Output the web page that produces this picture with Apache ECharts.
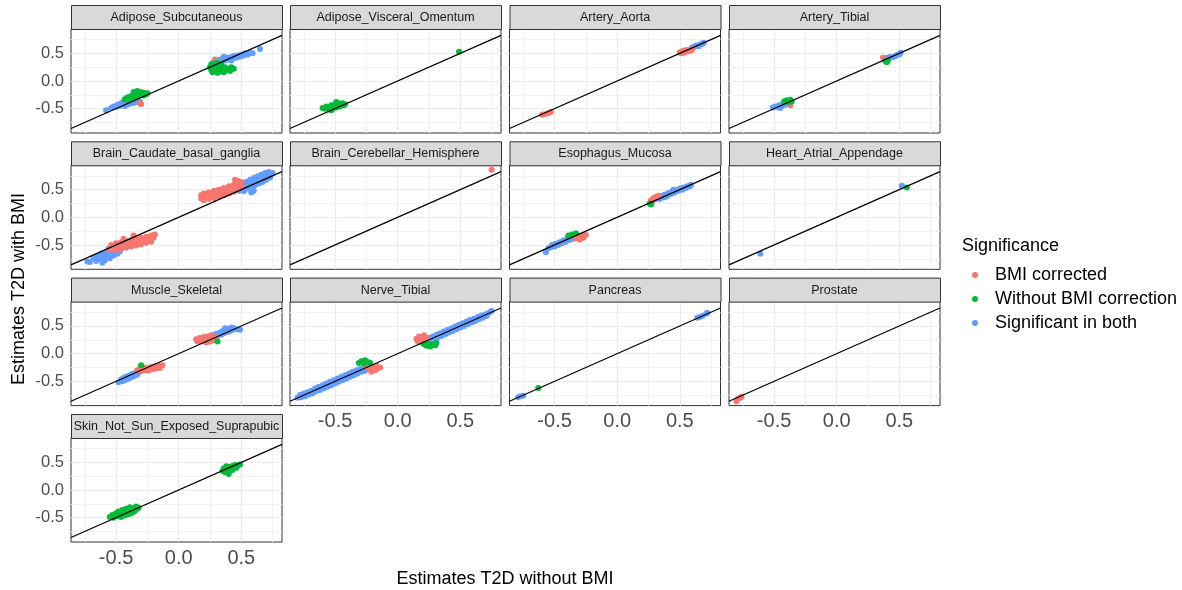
<!DOCTYPE html>
<html><head><meta charset="utf-8">
<script src="https://cdn.jsdelivr.net/npm/echarts@6/dist/echarts.min.js"></script>
<style>html,body{margin:0;padding:0;background:#fff}#c{width:1182px;height:590px}</style>
</head><body><div id="c"></div><script>
const panelNames = ['Adipose_Subcutaneous','Adipose_Visceral_Omentum','Artery_Aorta','Artery_Tibial',
  'Brain_Caudate_basal_ganglia','Brain_Cerebellar_Hemisphere','Esophagus_Mucosa','Heart_Atrial_Appendage',
  'Muscle_Skeletal','Nerve_Tibial','Pancreas','Prostate','Skin_Not_Sun_Exposed_Suprapubic'];
const groupNames = ['BMI corrected','Without BMI correction','Significant in both'];
const groupColors = ['#F8766D','#00BA38','#619CFF'];
const tickValues = [-0.5, 0, 0.5];
const majorGrid = [-0.5, 0, 0.5];
const minorGrid = [-0.75, -0.25, 0.25, 0.75];
const xLimits = [-0.86, 0.825];
const yLimits = [-0.94, 0.94];
const xTitle = 'Estimates T2D without BMI';
const yTitle = 'Estimates T2D with BMI';
const legendTitle = 'Significance';

// ---- data: [x, y] pairs per panel and group (red = BMI corrected, green = Without BMI correction, blue = Significant in both)
const adipSubRed = [[0.29,0.39],[-0.31,-0.40],[-0.30,-0.42]];
const adipSubGreen = [[-0.43,-0.33],[-0.41,-0.30],[-0.40,-0.34],[-0.39,-0.28],[-0.38,-0.31],[-0.37,-0.26],[-0.36,-0.30],[-0.35,-0.24],[-0.34,-0.28],[-0.33,-0.22],[-0.32,-0.26],[-0.31,-0.20],[-0.30,-0.24],[-0.29,-0.21],[-0.28,-0.26],[-0.27,-0.22],[-0.26,-0.24],[-0.25,-0.22],[-0.36,-0.20],[-0.33,-0.18],
  [0.25,0.25],[0.26,0.20],[0.26,0.30],[0.27,0.16],[0.28,0.24],[0.29,0.19],[0.30,0.28],[0.31,0.15],[0.32,0.22],[0.33,0.27],[0.33,0.17],[0.35,0.21],[0.36,0.16],[0.37,0.25],[0.38,0.19],[0.40,0.22],[0.41,0.18],[0.42,0.25],[0.44,0.22],[0.30,0.33],[0.34,0.31],[0.28,0.29]];
const adipSubBlue = [[-0.58,-0.53],[-0.54,-0.49],[-0.52,-0.46],[-0.50,-0.47],[-0.49,-0.43],[-0.47,-0.45],[-0.46,-0.40],[-0.45,-0.43],[-0.44,-0.37],[-0.43,-0.45],[-0.42,-0.40],[-0.41,-0.36],[-0.40,-0.42],[-0.39,-0.38],[-0.38,-0.34],[-0.37,-0.40],[-0.36,-0.36],[-0.35,-0.39],[-0.34,-0.37],[-0.33,-0.34],[-0.31,-0.37],
  [0.27,0.33],[0.29,0.36],[0.30,0.33],[0.32,0.38],[0.34,0.35],[0.35,0.40],[0.37,0.37],[0.38,0.42],[0.40,0.39],[0.41,0.43],[0.43,0.40],[0.44,0.45],[0.46,0.42],[0.47,0.46],[0.49,0.44],[0.50,0.48],[0.52,0.46],[0.53,0.50],[0.55,0.48],[0.57,0.51],[0.59,0.50],[0.65,0.58],[0.36,0.44],[0.42,0.37]];

const adipVisRed = [];
const adipVisGreen = [[-0.60,-0.49],[-0.58,-0.50],[-0.57,-0.46],[-0.55,-0.51],[-0.54,-0.47],[-0.53,-0.44],[-0.52,-0.50],[-0.51,-0.46],[-0.50,-0.42],[-0.49,-0.48],[-0.48,-0.44],[-0.47,-0.40],[-0.46,-0.46],[-0.45,-0.43],[-0.44,-0.40],[-0.43,-0.44],[-0.42,-0.42],[-0.53,-0.53],[-0.49,-0.38],[0.49,0.53]];
const adipVisBlue = [];

const aortaRed = [[-0.60,-0.61],[-0.58,-0.60],[-0.55,-0.58],[-0.53,-0.56],
  [0.50,0.52],[0.51,0.50],[0.52,0.54],[0.53,0.51],[0.54,0.55],[0.55,0.53],[0.56,0.56],[0.57,0.54],[0.58,0.57],[0.59,0.55],[0.60,0.58]];
const aortaGreen = [];
const aortaBlue = [[0.60,0.61],[0.62,0.62],[0.63,0.64],[0.65,0.63],[0.66,0.66],[0.68,0.67],[0.69,0.69]];

const arteryTibRed = [[-0.37,-0.44],[0.37,0.42]];
const arteryTibGreen = [[-0.42,-0.37],[-0.40,-0.35],[-0.39,-0.38],[-0.37,-0.34],[-0.36,-0.37],[0.39,0.36],[0.40,0.34],[0.41,0.37]];
const arteryTibBlue = [[-0.51,-0.48],[-0.49,-0.46],[-0.47,-0.47],[-0.46,-0.44],[-0.44,-0.45],[-0.43,-0.42],[-0.41,-0.43],[-0.40,-0.40],[-0.38,-0.41],[-0.45,-0.49],
  [0.38,0.40],[0.40,0.42],[0.42,0.41],[0.43,0.44],[0.45,0.43],[0.47,0.45],[0.48,0.47],[0.50,0.48],[0.51,0.51]];

const caudateRed = [[-0.55,-0.58],[-0.54,-0.50],[-0.52,-0.55],[-0.50,-0.47],[-0.50,-0.60],[-0.48,-0.52],[-0.46,-0.45],[-0.46,-0.57],[-0.44,-0.50],[-0.42,-0.43],[-0.42,-0.55],[-0.40,-0.48],[-0.38,-0.41],[-0.38,-0.53],[-0.36,-0.46],[-0.34,-0.39],[-0.34,-0.51],[-0.32,-0.44],[-0.30,-0.37],[-0.30,-0.49],[-0.28,-0.42],[-0.26,-0.35],[-0.26,-0.46],[-0.24,-0.40],[-0.22,-0.33],[-0.22,-0.44],[-0.20,-0.37],[-0.19,-0.31],[-0.44,-0.39],[-0.36,-0.33],
  [0.18,0.34],[0.18,0.40],[0.20,0.31],[0.20,0.37],[0.20,0.43],[0.22,0.35],[0.22,0.41],[0.24,0.33],[0.24,0.39],[0.24,0.45],[0.26,0.37],[0.26,0.43],[0.28,0.35],[0.28,0.41],[0.28,0.48],[0.30,0.39],[0.30,0.45],[0.32,0.37],[0.32,0.43],[0.32,0.50],[0.34,0.41],[0.34,0.47],[0.36,0.40],[0.36,0.46],[0.36,0.53],[0.38,0.44],[0.38,0.50],[0.40,0.43],[0.40,0.49],[0.40,0.56],[0.42,0.47],[0.42,0.53],[0.44,0.46],[0.44,0.52],[0.44,0.59],[0.46,0.50],[0.46,0.56],[0.48,0.54],[0.48,0.61],[0.50,0.57],[0.50,0.64],[0.47,0.66],[0.45,0.68]];
const caudateGreen = [];
const caudateBlue = [[-0.71,-0.81],[-0.68,-0.74],[-0.66,-0.79],[-0.65,-0.70],[-0.63,-0.75],[-0.62,-0.66],[-0.60,-0.71],[-0.59,-0.78],[-0.58,-0.63],[-0.57,-0.69],[-0.55,-0.74],[-0.54,-0.64],[-0.52,-0.69],[-0.51,-0.59],[-0.49,-0.66],[-0.47,-0.62],[-0.56,-0.57],[-0.61,-0.82],[-0.73,-0.80],
  [0.46,0.60],[0.48,0.48],[0.50,0.52],[0.51,0.60],[0.52,0.47],[0.53,0.56],[0.54,0.64],[0.55,0.52],[0.56,0.60],[0.57,0.68],[0.58,0.55],[0.59,0.63],[0.60,0.48],[0.60,0.71],[0.61,0.58],[0.62,0.66],[0.63,0.74],[0.64,0.61],[0.65,0.69],[0.66,0.77],[0.67,0.64],[0.68,0.72],[0.69,0.80],[0.70,0.68],[0.71,0.75],[0.72,0.82],[0.73,0.72],[0.74,0.78],[0.75,0.80],[0.58,0.45]];

const cerebRed = [[0.75,0.86]];
const cerebGreen = [];
const cerebBlue = [];

const esophRed = [[-0.33,-0.38],[-0.31,-0.35],[-0.30,-0.40],[-0.28,-0.33],[-0.27,-0.37],[-0.25,-0.32],
  [0.27,0.31],[0.29,0.35],[0.31,0.37],[0.33,0.39],[0.28,0.28]];
const esophGreen = [[-0.39,-0.33],[-0.36,-0.31],[-0.33,-0.29],[0.26,0.25],[0.27,0.23]];
const esophBlue = [[-0.57,-0.63],[-0.55,-0.56],[-0.53,-0.54],[-0.52,-0.50],[-0.50,-0.53],[-0.49,-0.48],[-0.47,-0.50],[-0.46,-0.45],[-0.44,-0.47],[-0.43,-0.42],[-0.41,-0.44],[-0.40,-0.39],[-0.38,-0.41],[-0.37,-0.37],[-0.35,-0.39],[-0.34,-0.34],[-0.32,-0.36],
  [0.30,0.32],[0.32,0.35],[0.34,0.33],[0.35,0.38],[0.37,0.36],[0.38,0.41],[0.40,0.39],[0.41,0.44],[0.43,0.42],[0.44,0.47],[0.46,0.45],[0.47,0.49],[0.49,0.48],[0.50,0.52],[0.52,0.50],[0.53,0.54],[0.55,0.53],[0.56,0.56],[0.58,0.56],[0.59,0.59],[0.45,0.50],[0.39,0.37]];

const heartRed = [];
const heartGreen = [[0.56,0.54]];
const heartBlue = [[-0.61,-0.66],[0.52,0.57]];

const muscleRed = [[-0.33,-0.30],[-0.31,-0.27],[-0.30,-0.32],[-0.28,-0.25],[-0.27,-0.30],[-0.25,-0.26],[-0.24,-0.31],[-0.22,-0.24],[-0.21,-0.28],[-0.19,-0.23],[-0.18,-0.27],[-0.16,-0.22],[-0.15,-0.26],[-0.13,-0.21],
  [0.14,0.26],[0.15,0.22],[0.17,0.28],[0.18,0.23],[0.20,0.30],[0.21,0.25],[0.22,0.20],[0.23,0.31],[0.24,0.26],[0.25,0.22],[0.26,0.33],[0.27,0.28],[0.28,0.24],[0.30,0.30]];
const muscleGreen = [[-0.30,-0.21],[0.31,0.22]];
const muscleBlue = [[-0.48,-0.52],[-0.46,-0.47],[-0.45,-0.50],[-0.44,-0.44],[-0.43,-0.48],[-0.42,-0.42],[-0.41,-0.46],[-0.40,-0.40],[-0.39,-0.44],[-0.38,-0.38],[-0.37,-0.42],[-0.36,-0.36],[-0.35,-0.40],[-0.34,-0.34],[-0.33,-0.38],[-0.31,-0.33],
  [0.28,0.33],[0.30,0.36],[0.31,0.32],[0.33,0.38],[0.34,0.34],[0.35,0.41],[0.36,0.37],[0.38,0.43],[0.39,0.39],[0.40,0.45],[0.41,0.41],[0.42,0.47],[0.43,0.43],[0.44,0.46],[0.46,0.44],[0.49,0.43],[0.37,0.46]];

const nerveRed = [[-0.25,-0.22],[-0.23,-0.28],[-0.22,-0.20],[-0.21,-0.33],[-0.20,-0.25],[-0.18,-0.30],[-0.17,-0.22],[-0.16,-0.27],[-0.14,-0.25],
  [0.15,0.27],[0.16,0.22],[0.17,0.31],[0.18,0.25],[0.19,0.20],[0.20,0.29],[0.21,0.33],[0.22,0.24],[0.23,0.28]];
const nerveGreen = [[-0.31,-0.17],[-0.29,-0.14],[-0.27,-0.18],[-0.26,-0.12],[-0.24,-0.15],[-0.22,-0.17],
  [0.21,0.17],[0.23,0.14],[0.25,0.18],[0.26,0.13],[0.28,0.16],[0.30,0.15],[0.31,0.19]];
const nerveBlue = [[-0.80,-0.80],[-0.78,-0.75],[-0.77,-0.79],[-0.75,-0.72],[-0.74,-0.77],[-0.72,-0.70],[-0.71,-0.74],[-0.69,-0.67],[-0.68,-0.72],[-0.66,-0.63],[-0.65,-0.68],[-0.63,-0.60],[-0.62,-0.66],[-0.60,-0.57],[-0.59,-0.63],[-0.57,-0.54],[-0.56,-0.60],[-0.54,-0.51],[-0.53,-0.57],[-0.51,-0.48],[-0.50,-0.54],[-0.48,-0.45],[-0.47,-0.51],[-0.45,-0.42],[-0.44,-0.48],[-0.42,-0.39],[-0.41,-0.45],[-0.39,-0.36],[-0.38,-0.42],[-0.36,-0.33],[-0.35,-0.39],[-0.33,-0.30],[-0.32,-0.36],[-0.30,-0.28],[-0.29,-0.33],[-0.27,-0.26],[-0.26,-0.31],[-0.24,-0.25],[-0.55,-0.55],[-0.65,-0.65],[-0.45,-0.45],[-0.35,-0.35],[-0.75,-0.75],
  [0.23,0.24],[0.25,0.28],[0.26,0.23],[0.28,0.31],[0.29,0.26],[0.31,0.34],[0.32,0.29],[0.34,0.37],[0.35,0.32],[0.37,0.40],[0.38,0.35],[0.40,0.43],[0.41,0.38],[0.43,0.46],[0.44,0.41],[0.46,0.49],[0.47,0.44],[0.49,0.52],[0.50,0.47],[0.52,0.55],[0.53,0.50],[0.55,0.58],[0.56,0.53],[0.58,0.61],[0.59,0.56],[0.61,0.63],[0.62,0.59],[0.64,0.66],[0.65,0.62],[0.67,0.69],[0.68,0.65],[0.70,0.71],[0.71,0.68],[0.73,0.74],[0.75,0.77],[0.40,0.40],[0.50,0.50],[0.60,0.60],[0.30,0.30]];

const pancreasRed = [];
const pancreasGreen = [[-0.63,-0.62]];
const pancreasBlue = [[-0.79,-0.79],[-0.77,-0.77],[-0.75,-0.76],[0.64,0.65],[0.66,0.66],[0.68,0.68],[0.71,0.72],[0.72,0.74]];

const prostateRed = [[-0.80,-0.86],[-0.79,-0.82],[-0.77,-0.80],[-0.76,-0.78]];
const prostateGreen = [];
const prostateBlue = [];

const skinRed = [];
const skinGreen = [[-0.55,-0.49],[-0.53,-0.45],[-0.52,-0.50],[-0.50,-0.42],[-0.49,-0.47],[-0.48,-0.39],[-0.47,-0.44],[-0.46,-0.49],[-0.45,-0.36],[-0.44,-0.41],[-0.43,-0.46],[-0.42,-0.34],[-0.41,-0.39],[-0.40,-0.44],[-0.39,-0.31],[-0.38,-0.36],[-0.37,-0.41],[-0.36,-0.33],[-0.35,-0.38],[-0.34,-0.30],[-0.33,-0.34],[-0.32,-0.32],
  [0.35,0.35],[0.36,0.39],[0.37,0.32],[0.38,0.37],[0.39,0.41],[0.40,0.34],[0.41,0.39],[0.42,0.43],[0.43,0.36],[0.44,0.41],[0.45,0.45],[0.46,0.40],[0.47,0.44],[0.49,0.46],[0.40,0.29],[0.38,0.43]];
const skinBlue = [];

const panelGroups = [
  [adipSubRed, adipSubGreen, adipSubBlue],
  [adipVisRed, adipVisGreen, adipVisBlue],
  [aortaRed, aortaGreen, aortaBlue],
  [arteryTibRed, arteryTibGreen, arteryTibBlue],
  [caudateRed, caudateGreen, caudateBlue],
  [cerebRed, cerebGreen, cerebBlue],
  [esophRed, esophGreen, esophBlue],
  [heartRed, heartGreen, heartBlue],
  [muscleRed, muscleGreen, muscleBlue],
  [nerveRed, nerveGreen, nerveBlue],
  [pancreasRed, pancreasGreen, pancreasBlue],
  [prostateRed, prostateGreen, prostateBlue],
  [skinRed, skinGreen, skinBlue]
];

// ---- layout
const FONT = '"Liberation Sans", Arial, sans-serif';
const colLeft = [71, 290, 509.5, 729];
const rowTop = [5, 141.3, 277.6, 414];
const panelW = 211, stripH = 24, plotH = 104;

const grids = [], xAxes = [], yAxes = [], series = [], graphics = [];
const drawOrder = [2, 0, 1]; // blue, red, green

panelNames.forEach((name, i) => {
  const c = i % 4, r = Math.floor(i / 4);
  const left = colLeft[c], top = rowTop[r] + stripH;
  const showX = (r === 3) || (r === 2 && c > 0);
  const showY = c === 0;
  grids.push({left: left, top: top, width: panelW, height: plotH, show: true,
    borderColor: '#333333', borderWidth: 1, backgroundColor: '#ffffff'});
  xAxes.push({gridIndex: i, type: 'value', min: xLimits[0], max: xLimits[1],
    axisLine: {show: false}, splitLine: {show: false},
    axisTick: {show: showX, customValues: tickValues, length: 4, lineStyle: {color: '#333333'}},
    axisLabel: {show: showX, customValues: tickValues, formatter: v => v.toFixed(1),
      color: '#4D4D4D', fontSize: 20, margin: 6, fontFamily: FONT}});
  yAxes.push({gridIndex: i, type: 'value', min: yLimits[0], max: yLimits[1],
    axisLine: {show: false}, splitLine: {show: false},
    axisTick: {show: showY, customValues: tickValues, length: 4, lineStyle: {color: '#333333'}},
    axisLabel: {show: showY, customValues: tickValues, formatter: v => v.toFixed(1),
      color: '#4D4D4D', fontSize: 16.5, margin: 7, fontFamily: FONT}});
  const ml = [];
  minorGrid.forEach(v => { ml.push({xAxis: v, lineStyle: {color: '#F2F2F2', width: 1, type: 'solid'}}); ml.push({yAxis: v, lineStyle: {color: '#F2F2F2', width: 1, type: 'solid'}}); });
  majorGrid.forEach(v => { ml.push({xAxis: v, lineStyle: {color: '#EBEBEB', width: 1.1, type: 'solid'}}); ml.push({yAxis: v, lineStyle: {color: '#EBEBEB', width: 1.1, type: 'solid'}}); });
  series.push({type: 'line', xAxisIndex: i, yAxisIndex: i, data: [], silent: true, z: 1, animation: false,
    markLine: {silent: true, z: 1, symbol: ['none', 'none'], label: {show: false}, animation: false,
      lineStyle: {type: 'solid'}, emphasis: {disabled: true}, data: ml}});
  drawOrder.forEach(g => {
    series.push({type: 'scatter', name: groupNames[g], xAxisIndex: i, yAxisIndex: i,
      data: panelGroups[i][g], symbolSize: 6, z: 2, animation: false, silent: true,
      itemStyle: {color: groupColors[g], opacity: 1}});
  });
  series.push({type: 'line', xAxisIndex: i, yAxisIndex: i, z: 3, silent: true, animation: false,
    data: [[xLimits[0], xLimits[0]], [xLimits[1], xLimits[1]]], showSymbol: false,
    lineStyle: {color: '#000000', width: 1.2}});
  graphics.push({type: 'rect', left: left, top: rowTop[r], z: 10,
    shape: {width: panelW, height: stripH}, style: {fill: '#D9D9D9', stroke: '#333333', lineWidth: 1}});
  graphics.push({type: 'text', x: left + panelW / 2, y: rowTop[r] + stripH / 2 + 0.5, z: 11,
    style: {text: name, fill: '#1A1A1A', fontSize: 12.5, fontFamily: FONT, textAlign: 'center', textVerticalAlign: 'middle'}});
});

graphics.push({type: 'text', x: 505, y: 579, style: {text: xTitle, fill: '#000', fontSize: 18, fontFamily: FONT, textAlign: 'center', textVerticalAlign: 'middle'}});
graphics.push({type: 'text', x: 19, y: 289, rotation: Math.PI / 2, style: {text: yTitle, fill: '#000', fontSize: 18, fontFamily: FONT, textAlign: 'center', textVerticalAlign: 'middle'}});
graphics.push({type: 'text', x: 962, y: 246, style: {text: legendTitle, fill: '#000', fontSize: 18, fontFamily: FONT, textAlign: 'left', textVerticalAlign: 'middle'}});
const legendY = [275, 299, 323];
groupNames.forEach((g, k) => {
  graphics.push({type: 'circle', shape: {cx: 975, cy: legendY[k], r: 3}, style: {fill: groupColors[k]}});
  graphics.push({type: 'text', x: 995, y: legendY[k], style: {text: g, fill: '#000', fontSize: 18, fontFamily: FONT, textAlign: 'left', textVerticalAlign: 'middle'}});
});

const chart = echarts.init(document.getElementById('c'), null, {renderer: 'canvas'});
chart.setOption({
  backgroundColor: '#ffffff',
  animation: false,
  grid: grids, xAxis: xAxes, yAxis: yAxes, series: series,
  graphic: graphics
});
</script></body></html>
